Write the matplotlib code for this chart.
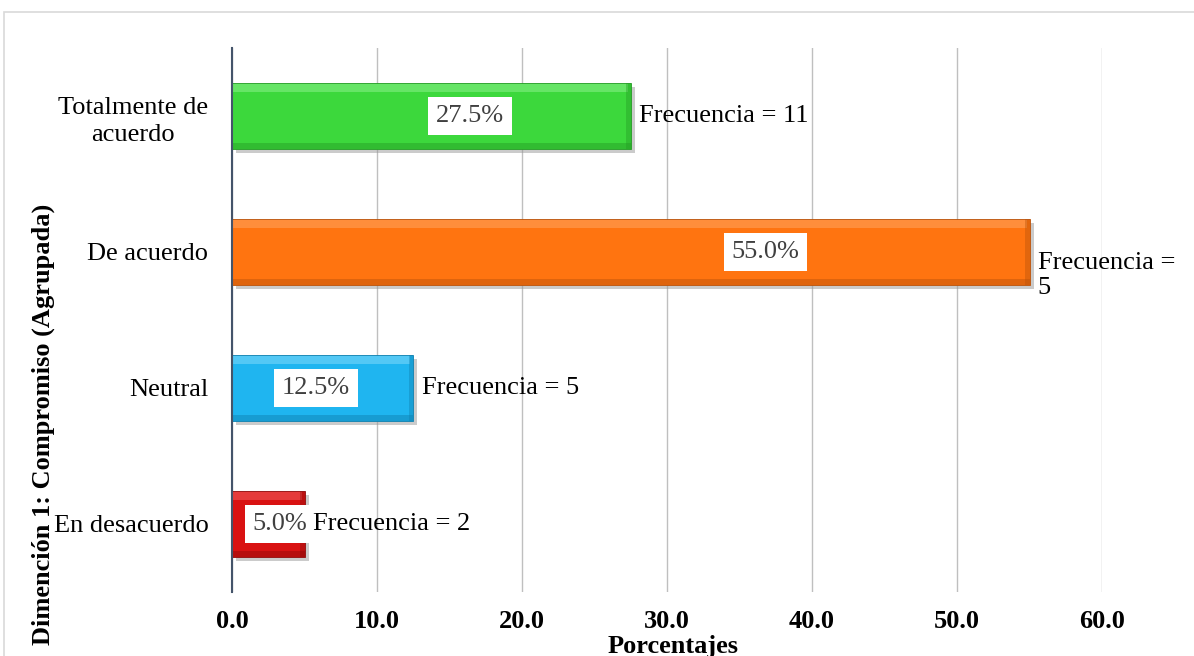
import matplotlib
matplotlib.use("Agg")
import matplotlib.pyplot as plt
import matplotlib.patheffects as pe
from matplotlib.patches import Rectangle
import numpy as np

categories = ["En desacuerdo", "Neutral", "De acuerdo", "Totalmente de\nacuerdo"]
percentages = [5.0, 12.5, 55.0, 27.5]
freq_labels = ["Frecuencia = 2", "Frecuencia = 5", "Frecuencia =\n5", "Frecuencia = 11"]
pct_label_pos = [3.3, 5.8, 36.8, 16.4]
xticks = [0, 10, 20, 30, 40, 50, 60]

colors = ["#D91212", "#1FB5F0", "#FF7410", "#3CD83C"]
dark = ["#8E0B0B", "#0E7FAE", "#B8520A", "#249A24"]
light = ["#F06060", "#7FD8FA", "#FFA560", "#8AF08A"]

plt.rcParams['font.family'] = ['Liberation Serif', 'DejaVu Serif']

fig = plt.figure(figsize=(11.94, 6.56), dpi=100)
ax = fig.add_axes([232/1194, 1-592/656, (1102-232)/1194, (592-48)/656])

# figure border
fig.patches.append(Rectangle((4/1194, -0.05), 1.2, 1-12/656+0.05, transform=fig.transFigure,
                             fill=False, edgecolor="#D9D9D9", linewidth=1.2))

y = np.arange(len(categories))
h = 0.49
for i, (v, c) in enumerate(zip(percentages, colors)):
    ax.barh(y[i], v, height=h, color=c, edgecolor=dark[i], linewidth=0.6, zorder=3,
            path_effects=[pe.SimplePatchShadow(offset=(3, -3), shadow_rgbFace="#999999", alpha=0.5),
                          pe.Normal()])
    # bevel highlights
    ax.barh(y[i] + h/2 - 0.04, v - 0.2, height=0.06, left=0.0, color=light[i], linewidth=0, zorder=4, alpha=0.55)
    ax.barh(y[i] - h/2 + 0.025, v, height=0.04, left=0.0, color=dark[i], linewidth=0, zorder=4, alpha=0.45)
    ax.barh(y[i], 0.3, height=h, left=v - 0.3, color=dark[i], linewidth=0, zorder=4, alpha=0.4)

for i, v in enumerate(percentages):
    ax.text(pct_label_pos[i], y[i], f"{v:.1f}%", ha="center", va="center", fontsize=19,
            color="#404040", zorder=6,
            bbox=dict(boxstyle="square,pad=0.3", facecolor="white", edgecolor="none"))
    ax.annotate(freq_labels[i], xy=(v, y[i]), xytext=(6, 0), textcoords="offset points",
                ha="left", va="center" if "\n" not in freq_labels[i] else "top",
                fontsize=19, color="black", zorder=6, linespacing=1.15)

ax.set_xlim(0, 60)
ax.set_ylim(-0.5, 3.5)
ax.set_xticks(xticks)
ax.set_xticklabels([f"{t:.1f}" for t in xticks], fontsize=19, fontweight="bold")
ax.set_yticks(y)
ax.set_yticklabels(categories, fontsize=19, multialignment="center", linespacing=1.3)
ax.tick_params(axis="both", length=0)
ax.tick_params(axis="y", pad=17)
ax.tick_params(axis="x", pad=13)
ax.grid(axis="x", color="#BFBFBF", linewidth=1.0, zorder=0)
ax.set_axisbelow(True)
for s in ["top", "right", "bottom"]:
    ax.spines[s].set_visible(False)
ax.spines["left"].set_color("#44546A")
ax.spines["left"].set_linewidth(1.5)
ax.spines["left"].set_zorder(5)

fig.text(673/1194, 1-646/656, "Porcentajes", ha="center", va="center", fontsize=19, fontweight="bold")
fig.text(43/1194, 1-204/656, "Dimención 1: Compromiso (Agrupada)", rotation=90, ha="center", va="top",
         fontsize=19, fontweight="bold")

fig.savefig("out.png", dpi=100)
